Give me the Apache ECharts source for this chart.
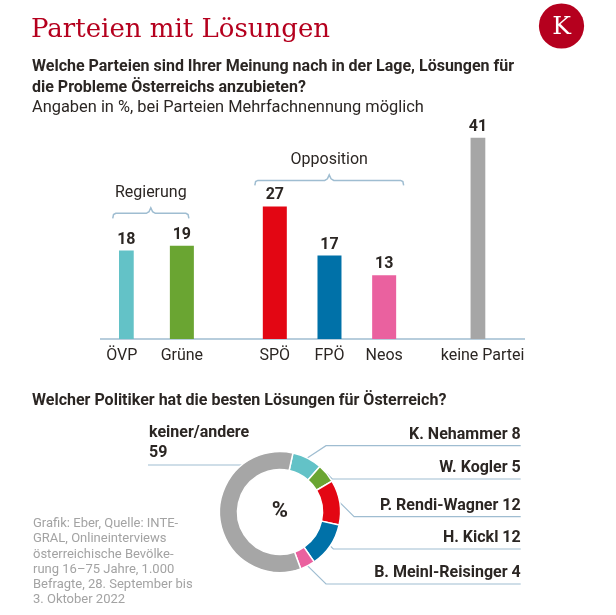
<!DOCTYPE html>
<html><head><meta charset="utf-8">
<script src="https://cdn.jsdelivr.net/npm/echarts@6/dist/echarts.min.js"></script>
<style>html,body{margin:0;padding:0;background:#fff}#c{width:616px;height:615px}</style>
</head><body><div id="c"></div>
<script>
// ---------- data ----------
const titleText = 'Parteien mit Lösungen';
const subtitleLines = ['Welche Parteien sind Ihrer Meinung nach in der Lage, Lösungen für', 'die Probleme Österreichs anzubieten?'];
const noteText = 'Angaben in %, bei Parteien Mehrfachnennung möglich';
const parties = ['ÖVP', 'Grüne', 'SPÖ', 'FPÖ', 'Neos', 'keine Partei'];
const partyValues = [18, 19, 27, 17, 13, 41];
const partyColors = ['#63c2c7', '#6aa532', '#e30613', '#0071a8', '#ea619f', '#a6a6a6'];
const groupLabels = ['Regierung', 'Opposition'];
const groupMembers = [['ÖVP', 'Grüne'], ['SPÖ', 'FPÖ', 'Neos']];

const question2 = 'Welcher Politiker hat die besten Lösungen für Österreich?';
const politicians = ['K. Nehammer', 'W. Kogler', 'P. Rendi-Wagner', 'H. Kickl', 'B. Meinl-Reisinger', 'keiner/andere'];
const politicianValues = [8, 5, 12, 12, 4, 59];
const politicianColors = ['#63c2c7', '#6aa532', '#e30613', '#0071a8', '#ea619f', '#a6a6a6'];
const centerLabel = '%';
const sourceText = 'Grafik: Eber, Quelle: INTE-\nGRAL, Onlineinterviews\nösterreichische Bevölke-\nrung 16–75 Jahre, 1.000\nBefragte, 28. September bis\n3. Oktober 2022';

// ---------- layout ----------
const TXT = '#2b2623';
const GUIDE = '#9fbdd1';
const slotPos = [0, 11, 28, 38, 48, 66];
const nSlots = 67;
const bracketCfg = [ { level: 25.6, padL: 9, padR: 7 }, { level: 32.3, padL: 20, padR: 19.5 } ];
const pieC = [280, 512], pieR = [42.5, 60.5];
const startFromTop = 12.4; // degrees clockwise from 12 o'clock
const labelRight = 520.7;
const underlineY = [445.7, 479, 516.7, 549, 584];

const categories = [];
const barData = [];
for (let i = 0; i < nSlots; i++) {
  const k = slotPos.indexOf(i);
  if (k >= 0) {
    categories.push(parties[k]);
    barData.push({ value: partyValues[k], itemStyle: { color: partyColors[k] } });
  } else {
    categories.push('_' + i);
    barData.push('-');
  }
}

const total = politicianValues.reduce((a, b) => a + b, 0);
function midAngle(i) {
  let cum = 0; for (let j = 0; j < i; j++) cum += politicianValues[j];
  return startFromTop + (cum + politicianValues[i] / 2) / total * 360;
}

const chart = echarts.init(document.getElementById('c'), null, { renderer: 'canvas' });
const FONT = 'Roboto, "DejaVu Sans", sans-serif';

chart.setOption({
  animation: false,
  grid: { left: 119, right: 130.7, top: 93.5, bottom: 276 },
  xAxis: {
    type: 'category', data: categories,
    axisLine: { show: false }, axisTick: { show: false },
    axisLabel: { interval: 0, margin: 9, fontSize: 16, color: TXT, fontFamily: FONT,
      formatter: v => v.charAt(0) === '_' ? '' : v }
  },
  yAxis: { type: 'value', min: 0, max: 50, show: false, splitLine: { show: false } },
  series: [
    {
      type: 'bar', data: barData, barWidth: 24, silent: true,
      label: { show: true, position: 'top', distance: 3, fontSize: 16, fontWeight: 'bold', color: TXT, fontFamily: FONT }
    },
    {
      type: 'pie', center: pieC, radius: pieR, startAngle: 90 - startFromTop, clockwise: true, silent: true,
      data: politicians.map((n, i) => ({ name: n, value: politicianValues[i], itemStyle: { color: politicianColors[i] } })),
      itemStyle: { borderColor: '#fff', borderWidth: 1.5 },
      label: {
        show: true, fontFamily: FONT, fontSize: 16, fontWeight: 'bold', color: TXT,
        lineHeight: 20,
        formatter: p => p.dataIndex === politicians.length - 1 ? p.name + '\n' + p.value : p.name + ' ' + p.value
      },
      labelLine: { show: true, length: 10, length2: 10, lineStyle: { color: GUIDE, width: 1.2 } },
      labelLayout: function (params) {
        const i = params.dataIndex;
        if (i === politicians.length - 1) {
          const ly = 465;
          const dy = pieC[1] - ly;
          const px = pieC[0] - Math.sqrt(pieR[1] * pieR[1] - dy * dy);
          return { x: 149, y: 423, align: 'left', verticalAlign: 'top',
            labelLinePoints: [[px, ly], [px - 40, ly], [148, ly]] };
        }
        const a = midAngle(i) * Math.PI / 180;
        const p0x = pieC[0] + pieR[1] * Math.sin(a);
        const p0y = pieC[1] - pieR[1] * Math.cos(a);
        const uy = underlineY[i];
        const x1 = Math.max(p0x + Math.abs(uy - p0y), 326);
        return { x: labelRight, y: uy - 11, align: 'right', verticalAlign: 'middle',
          labelLinePoints: [[p0x, p0y], [x1, uy], [labelRight, uy]] };
      }
    }
  ]
});

// ---------- annotations (positioned through the axes) ----------
function px(name, val) { return chart.convertToPixel({ xAxisIndex: 0, yAxisIndex: 0 }, [name, val]); }
const g = [];
function txt(text, x, y, o) {
  g.push({ type: 'text', x: x, y: y, silent: true, style: Object.assign({ text: text, fill: TXT, fontFamily: FONT, fontSize: 16, align: 'left', verticalAlign: 'middle' }, o || {}) });
}
txt(titleText, 31, 30, { fontFamily: '"DejaVu Serif", serif', fontSize: 26, fill: '#b5001e' });
txt(subtitleLines[0], 32, 67, { fontWeight: 'bold' });
txt(subtitleLines[1], 32, 87.5, { fontWeight: 'bold' });
txt(noteText, 32, 108, { fontSize: 16.4 });
txt(question2, 32, 401, { fontWeight: 'bold' });
g.push({ type: 'circle', shape: { cx: 561.5, cy: 26, r: 22.6 }, style: { fill: '#b5001e' }, silent: true });
txt('K', 561.5, 27.5, { fontFamily: '"DejaVu Serif", serif', fontSize: 25, fill: '#fff', align: 'center' });
txt(centerLabel, pieC[0], pieC[1] - 1, { fontSize: 22, fontWeight: 'bold', align: 'center' });
g.push({ type: 'text', x: 33, y: 516.4, silent: true, style: { text: sourceText, fill: '#a3a3a3', fontFamily: FONT, fontSize: 13, lineHeight: 15.2, align: 'left', verticalAlign: 'top' } });

// baseline
const base = px(parties[0], 0)[1];
g.push({ type: 'line', shape: { x1: 100, y1: base, x2: 525, y2: base }, style: { stroke: GUIDE, lineWidth: 1.5 }, silent: true });

// brackets
groupMembers.forEach((mem, k) => {
  const cfg = bracketCfg[k];
  const xl = px(mem[0], 0)[0] - cfg.padL;
  const xr = px(mem[mem.length - 1], 0)[0] + cfg.padR;
  const yH = px(mem[0], cfg.level)[1];
  const xm = (xl + xr) / 2;
  const drop = 5, peak = 5.5;
  g.push({ type: 'polyline', silent: true, shape: { points: [
    [xl, yH + drop], [xl + 0.8, yH + 1.2], [xl + 3, yH], [xm - 4.5, yH], [xm - 1.8, yH - 1.6], [xm, yH - peak],
    [xm + 1.8, yH - 1.6], [xm + 4.5, yH], [xr - 3, yH], [xr - 0.8, yH + 1.2], [xr, yH + drop]
  ] }, style: { stroke: GUIDE, lineWidth: 1.5, fill: null } });
  txt(groupLabels[k], xm, yH - 20, { align: 'center' });
});

chart.setOption({ graphic: g });
</script>
</body></html>
